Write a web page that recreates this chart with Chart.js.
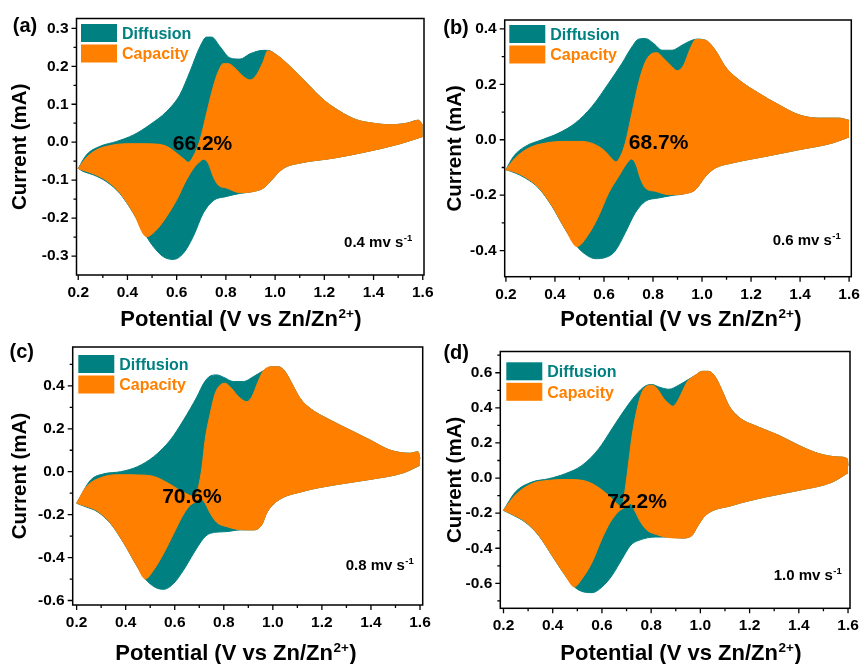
<!DOCTYPE html>
<html>
<head>
<meta charset="utf-8">
<script src="https://cdn.jsdelivr.net/npm/chart.js@4.4.0/dist/chart.umd.min.js"></script>
<style>
html,body{margin:0;padding:0;background:#fff;}
#wrap{position:relative;width:864px;height:664px;overflow:hidden;background:#fff;}
canvas{position:absolute;}
</style>
</head>
<body>
<div id="wrap">
<canvas id="ca" width="444" height="332" style="left:0;top:0"></canvas>
<canvas id="cb" width="432" height="332" style="left:432px;top:0"></canvas>
<canvas id="cc" width="444" height="332" style="left:0;top:332px"></canvas>
<canvas id="cd" width="432" height="332" style="left:432px;top:332px"></canvas>
</div>
<script>
// ---------- DATA (x = potential V vs Zn/Zn2+, y = current mA) ----------
// (a) 0.4 mV/s
const aDiffUpper = [[0.2,-0.069],[0.234,-0.033],[0.288,-0.011],[0.356,0.002],[0.424,0.019],[0.491,0.046],[0.559,0.081],[0.613,0.125],[0.654,0.186],[0.695,0.252],[0.722,0.277],[0.742,0.277],[0.776,0.252],[0.817,0.222],[0.857,0.219],[0.898,0.233],[0.952,0.242],[0.97,0.242],[1.006,0.23],[1.06,0.2],[1.128,0.156],[1.196,0.112],[1.264,0.081],[1.331,0.059],[1.399,0.05],[1.467,0.046],[1.535,0.05],[1.582,0.058],[1.6,0.045]];
const aDiffLower = [[0.2,-0.069],[0.22,-0.077],[0.261,-0.086],[0.315,-0.104],[0.369,-0.135],[0.424,-0.187],[0.478,-0.249],[0.505,-0.275],[0.546,-0.302],[0.586,-0.309],[0.627,-0.293],[0.667,-0.249],[0.708,-0.187],[0.749,-0.154],[0.803,-0.143],[0.857,-0.135],[0.911,-0.13],[0.952,-0.121],[0.979,-0.104],[1.033,-0.069],[1.101,-0.055],[1.237,-0.042],[1.372,-0.025],[1.508,-0.004],[1.6,0.015]];
const aCapUpper = [[0.2,-0.069],[0.234,-0.04],[0.275,-0.02],[0.329,-0.009],[0.396,-0.004],[0.451,-0.004],[0.518,-0.005],[0.559,-0.011],[0.6,-0.029],[0.634,-0.047],[0.647,-0.053],[0.667,-0.038],[0.695,0.006],[0.722,0.077],[0.749,0.147],[0.769,0.186],[0.789,0.207],[0.81,0.207],[0.837,0.195],[0.871,0.173],[0.898,0.164],[0.925,0.178],[0.952,0.213],[0.97,0.241],[1.006,0.23],[1.06,0.2],[1.128,0.156],[1.196,0.112],[1.264,0.081],[1.331,0.059],[1.399,0.05],[1.467,0.046],[1.535,0.05],[1.582,0.058],[1.6,0.045]];
const aCapLower = [[0.2,-0.069],[0.22,-0.074],[0.261,-0.083],[0.315,-0.101],[0.369,-0.133],[0.424,-0.186],[0.478,-0.249],[0.518,-0.231],[0.559,-0.196],[0.6,-0.152],[0.64,-0.099],[0.674,-0.064],[0.695,-0.051],[0.708,-0.045],[0.728,-0.055],[0.749,-0.091],[0.769,-0.113],[0.803,-0.121],[0.857,-0.133],[0.911,-0.13],[0.952,-0.121],[0.979,-0.104],[1.033,-0.069],[1.101,-0.055],[1.237,-0.042],[1.372,-0.025],[1.508,-0.004],[1.6,0.015]];

// (b) 0.6 mV/s
const bDiffUpper = [[0.2,-0.108],[0.231,-0.06],[0.279,-0.024],[0.347,0.0],[0.415,0.024],[0.483,0.06],[0.551,0.12],[0.619,0.204],[0.673,0.275],[0.714,0.335],[0.741,0.363],[0.769,0.365],[0.803,0.347],[0.837,0.323],[0.878,0.323],[0.918,0.341],[0.959,0.359],[0.98,0.363],[1.014,0.359],[1.054,0.323],[1.095,0.263],[1.15,0.216],[1.231,0.168],[1.313,0.126],[1.395,0.09],[1.476,0.078],[1.558,0.078],[1.6,0.07]];
const bDiffLower = [[0.2,-0.108],[0.238,-0.12],[0.279,-0.138],[0.333,-0.174],[0.388,-0.24],[0.442,-0.323],[0.49,-0.385],[0.524,-0.413],[0.565,-0.429],[0.605,-0.425],[0.646,-0.401],[0.687,-0.335],[0.728,-0.263],[0.769,-0.222],[0.823,-0.21],[0.878,-0.201],[0.932,-0.194],[0.973,-0.18],[1.014,-0.132],[1.054,-0.102],[1.122,-0.084],[1.259,-0.06],[1.395,-0.036],[1.531,-0.012],[1.6,0.01]];
const bCapUpper = [[0.2,-0.108],[0.238,-0.066],[0.293,-0.03],[0.361,-0.012],[0.442,-0.006],[0.51,-0.006],[0.565,-0.018],[0.605,-0.042],[0.633,-0.069],[0.649,-0.08],[0.667,-0.06],[0.687,-0.012],[0.714,0.096],[0.741,0.204],[0.769,0.281],[0.796,0.311],[0.816,0.314],[0.844,0.293],[0.878,0.263],[0.898,0.249],[0.925,0.269],[0.952,0.329],[0.975,0.362],[1.014,0.359],[1.054,0.323],[1.095,0.263],[1.15,0.216],[1.231,0.168],[1.313,0.126],[1.395,0.09],[1.476,0.078],[1.558,0.078],[1.6,0.07]];
const bCapLower = [[0.2,-0.108],[0.238,-0.117],[0.279,-0.135],[0.333,-0.172],[0.388,-0.238],[0.442,-0.322],[0.49,-0.385],[0.537,-0.341],[0.578,-0.275],[0.619,-0.192],[0.66,-0.132],[0.694,-0.084],[0.712,-0.069],[0.731,-0.09],[0.748,-0.138],[0.769,-0.174],[0.81,-0.186],[0.864,-0.198],[0.932,-0.194],[0.973,-0.18],[1.014,-0.132],[1.054,-0.102],[1.122,-0.084],[1.259,-0.06],[1.395,-0.036],[1.531,-0.012],[1.6,0.01]];

// (c) 0.8 mV/s
const cDiffUpper = [[0.2,-0.147],[0.257,-0.039],[0.311,-0.01],[0.379,0.0],[0.447,0.023],[0.514,0.07],[0.582,0.148],[0.636,0.241],[0.691,0.35],[0.718,0.412],[0.745,0.446],[0.772,0.451],[0.799,0.44],[0.84,0.42],[0.88,0.42],[0.921,0.443],[0.962,0.471],[0.996,0.489],[1.023,0.489],[1.05,0.466],[1.077,0.412],[1.111,0.342],[1.152,0.295],[1.233,0.241],[1.315,0.194],[1.396,0.148],[1.477,0.101],[1.559,0.086],[1.592,0.093],[1.6,0.06]];
const cDiffLower = [[0.2,-0.147],[0.236,-0.163],[0.284,-0.186],[0.338,-0.241],[0.393,-0.334],[0.447,-0.442],[0.48,-0.5],[0.521,-0.539],[0.555,-0.548],[0.596,-0.52],[0.636,-0.458],[0.677,-0.38],[0.718,-0.31],[0.745,-0.287],[0.813,-0.279],[0.867,-0.271],[0.921,-0.271],[0.955,-0.247],[0.975,-0.192],[1.016,-0.138],[1.125,-0.091],[1.26,-0.06],[1.396,-0.036],[1.532,-0.005],[1.6,0.03]];
const cCapUpper = [[0.2,-0.147],[0.24,-0.07],[0.311,-0.023],[0.379,-0.014],[0.447,-0.015],[0.514,-0.022],[0.568,-0.05],[0.623,-0.088],[0.66,-0.11],[0.682,-0.118],[0.697,-0.07],[0.711,0.02],[0.724,0.148],[0.745,0.272],[0.765,0.365],[0.786,0.404],[0.806,0.412],[0.83,0.39],[0.86,0.35],[0.894,0.326],[0.915,0.35],[0.94,0.42],[0.962,0.471],[0.996,0.489],[1.023,0.489],[1.05,0.466],[1.077,0.412],[1.111,0.342],[1.152,0.295],[1.233,0.241],[1.315,0.194],[1.396,0.148],[1.477,0.101],[1.559,0.086],[1.592,0.093],[1.6,0.06]];
const cCapLower = [[0.2,-0.147],[0.236,-0.16],[0.284,-0.183],[0.338,-0.239],[0.393,-0.333],[0.447,-0.441],[0.48,-0.5],[0.514,-0.458],[0.555,-0.38],[0.596,-0.287],[0.63,-0.21],[0.657,-0.163],[0.684,-0.14],[0.704,-0.124],[0.724,-0.147],[0.745,-0.194],[0.772,-0.237],[0.813,-0.256],[0.86,-0.269],[0.921,-0.271],[0.955,-0.247],[0.975,-0.192],[1.016,-0.138],[1.125,-0.091],[1.26,-0.06],[1.396,-0.036],[1.532,-0.005],[1.6,0.03]];

// (d) 1.0 mV/s
const dDiffUpper = [[0.2,-0.184],[0.248,-0.08],[0.315,-0.023],[0.383,-0.004],[0.451,0.025],[0.519,0.072],[0.587,0.167],[0.641,0.281],[0.695,0.395],[0.736,0.471],[0.777,0.525],[0.804,0.533],[0.831,0.519],[0.872,0.506],[0.912,0.529],[0.946,0.557],[0.98,0.586],[1.007,0.608],[1.034,0.608],[1.061,0.575],[1.088,0.499],[1.115,0.414],[1.156,0.347],[1.237,0.29],[1.319,0.243],[1.4,0.186],[1.482,0.139],[1.563,0.12],[1.597,0.11],[1.6,0.07]];
const dDiffLower = [[0.2,-0.184],[0.241,-0.213],[0.288,-0.251],[0.343,-0.327],[0.397,-0.441],[0.451,-0.555],[0.488,-0.62],[0.526,-0.649],[0.56,-0.653],[0.6,-0.621],[0.641,-0.555],[0.682,-0.46],[0.716,-0.384],[0.75,-0.355],[0.818,-0.336],[0.872,-0.336],[0.925,-0.342],[0.966,-0.327],[0.986,-0.28],[1.02,-0.213],[1.129,-0.156],[1.264,-0.108],[1.4,-0.07],[1.536,-0.023],[1.6,0.03]];
const dCapUpper = [[0.2,-0.184],[0.248,-0.097],[0.315,-0.032],[0.383,-0.013],[0.451,-0.008],[0.519,-0.013],[0.573,-0.042],[0.627,-0.099],[0.661,-0.146],[0.68,-0.165],[0.695,-0.06],[0.709,0.093],[0.723,0.245],[0.743,0.395],[0.763,0.49],[0.784,0.525],[0.804,0.529],[0.824,0.51],[0.851,0.453],[0.872,0.424],[0.888,0.409],[0.905,0.433],[0.926,0.491],[0.946,0.548],[0.96,0.567],[0.98,0.586],[1.007,0.608],[1.034,0.608],[1.061,0.575],[1.088,0.499],[1.115,0.414],[1.156,0.347],[1.237,0.29],[1.319,0.243],[1.4,0.186],[1.482,0.139],[1.563,0.12],[1.597,0.11],[1.6,0.07]];
const dCapLower = [[0.2,-0.184],[0.241,-0.21],[0.288,-0.248],[0.343,-0.325],[0.397,-0.44],[0.451,-0.554],[0.488,-0.62],[0.519,-0.574],[0.56,-0.479],[0.6,-0.346],[0.634,-0.251],[0.668,-0.19],[0.702,-0.16],[0.716,-0.146],[0.736,-0.194],[0.757,-0.251],[0.784,-0.298],[0.824,-0.323],[0.858,-0.336],[0.925,-0.342],[0.966,-0.327],[0.986,-0.28],[1.02,-0.213],[1.129,-0.156],[1.264,-0.108],[1.4,-0.07],[1.536,-0.023],[1.6,0.03]];

// ---------- TEXT ----------
const panelLabels = ['(a)', '(b)', '(c)', '(d)'];
const percentLabels = ['66.2%', '68.7%', '70.6%', '72.2%'];
const scanRates = ['0.4', '0.6', '0.8', '1.0'];
const seriesNames = ['Diffusion', 'Capacity'];
const yAxisTitle = 'Current (mA)';
const xAxisTitleMain = 'Potential (V vs Zn/Zn';
const xAxisTitleSup = '2+';
const xAxisTitleEnd = ')';

// ---------- STYLE / LAYOUT ----------
const TEAL = '#008080';
const ORANGE = '#FF8000';
const FONT = '"Liberation Sans", Arial, Helvetica, sans-serif';
const TICK_SIZE = 15.5;
const XTITLE_SIZE = 22;
const YTITLE_SIZE = 20.5;

const panels = [
  { id:'ca', diffU:aDiffUpper, diffL:aDiffLower, capU:aCapUpper, capL:aCapLower,
    xMin:0.193, xMax:1.605, yMin:-0.35, yMax:0.326, yStep:0.05, yMajor:0.1,
    padTop:18.5, padRight:20, yW:76.5, xH:57, yTitleX:20, xTitleX:241, xTitleY:318,
    labelX:25, labelY:25.8, pctX:0.705, pctY:0.0, rateDx:-12.3, rateDy:-33.3, legDx:4.5, legDy:5.5 },
  { id:'cb', diffU:bDiffUpper, diffL:bDiffLower, capU:bCapUpper, capL:bCapLower,
    xMin:0.195, xMax:1.609, yMin:-0.494, yMax:0.432, yStep:0.1, yMajor:0.2,
    padTop:20, padRight:12.7, yW:72.7, xH:55.3, yTitleX:23.3, xTitleX:249, xTitleY:318.3,
    labelX:24, labelY:27.5, pctX:0.823, pctY:-0.006, rateDx:-11, rateDy:-36.7, legDx:4.6, legDy:5 },
  { id:'cc', diffU:cDiffUpper, diffL:cDiffLower, capU:cCapUpper, capL:cCapLower,
    xMin:0.184, xMax:1.611, yMin:-0.621, yMax:0.581, yStep:0.1, yMajor:0.2,
    padTop:15, padRight:21.3, yW:72.7, xH:59, yTitleX:20, xTitleX:236, xTitleY:319.7,
    labelX:21.7, labelY:20.3, pctX:0.67, pctY:-0.109, rateDx:-9.4, rateDy:-40, legDx:5.6, legDy:8 },
  { id:'cd', diffU:dDiffUpper, diffL:dDiffLower, capU:dCapUpper, capL:dCapLower,
    xMin:0.187, xMax:1.608, yMin:-0.742, yMax:0.721, yStep:0.1, yMajor:0.2,
    padTop:19.5, padRight:14, yW:68.3, xH:55.7, yTitleX:23.3, xTitleX:249, xTitleY:319.7,
    labelX:24.2, labelY:21.3, pctX:0.743, pctY:-0.125, rateDx:-8.7, rateDy:-33.3, legDx:6, legDy:10.8 }
];

function fmtTick(v, major) {
  const r = v / major;
  if (Math.abs(r - Math.round(r)) > 1e-6) return '';
  if (Math.abs(v) < 1e-9) return '0.0';
  return v.toFixed(1);
}

function makeDataset(label, points, color, fill) {
  return {
    label: label,
    data: points.map(function (p) { return { x: p[0], y: p[1] }; }),
    borderColor: color,
    backgroundColor: color,
    borderWidth: 1,
    pointRadius: 0,
    pointHoverRadius: 0,
    fill: fill,
    cubicInterpolationMode: 'monotone'
  };
}

function makeAnnotations(p, idx) {
  return {
    id: 'annot' + idx,
    afterDraw: function (chart) {
      const ctx = chart.ctx, ca = chart.chartArea;
      const xs = chart.scales.x, ys = chart.scales.y;
      ctx.save();
      // frame
      ctx.strokeStyle = '#000';
      ctx.lineWidth = 1.5;
      ctx.strokeRect(ca.left, ca.top, ca.right - ca.left, ca.bottom - ca.top);
      // tick marks (outside): long for labelled, short for minor
      ctx.lineWidth = 1.3;
      ctx.beginPath();
      xs.ticks.forEach(function (t) {
        const px = xs.getPixelForValue(t.value);
        const len = t.label ? 5 : 3;
        ctx.moveTo(px, ca.bottom); ctx.lineTo(px, ca.bottom + len);
      });
      ys.ticks.forEach(function (t) {
        const py = ys.getPixelForValue(t.value);
        const len = t.label ? 5 : 3;
        ctx.moveTo(ca.left - len, py); ctx.lineTo(ca.left, py);
      });
      ctx.stroke();

      // legend
      const bx = ca.left + p.legDx, by = ca.top + p.legDy;
      const bw = 36, bh = 18, step = 20.5, ls = 16;
      ctx.fillStyle = TEAL; ctx.fillRect(bx, by, bw, bh);
      ctx.fillStyle = ORANGE; ctx.fillRect(bx, by + step, bw, bh);
      ctx.font = 'bold ' + ls + 'px ' + FONT;
      ctx.textAlign = 'left'; ctx.textBaseline = 'alphabetic';
      ctx.fillStyle = TEAL; ctx.fillText(seriesNames[0], bx + 41, by + bh / 2 + 0.358 * ls);
      ctx.fillStyle = ORANGE; ctx.fillText(seriesNames[1], bx + 41, by + step + bh / 2 + 0.358 * ls);

      // percentage
      ctx.fillStyle = '#000';
      ctx.font = 'bold 21px ' + FONT;
      ctx.textAlign = 'center';
      ctx.fillText(percentLabels[idx], xs.getPixelForValue(p.pctX), ys.getPixelForValue(p.pctY) + 0.358 * 21);

      // scan rate with superscript
      const mainTxt = scanRates[idx] + ' mv s';
      const supTxt = '-1';
      const rs = 15, ss = 9.5;
      ctx.textAlign = 'left';
      ctx.font = 'bold ' + rs + 'px ' + FONT;
      const wMain = ctx.measureText(mainTxt).width;
      ctx.font = 'bold ' + ss + 'px ' + FONT;
      const wSup = ctx.measureText(supTxt).width;
      const xEnd = ca.right + p.rateDx;
      const base = ca.bottom + p.rateDy + 0.358 * rs;
      ctx.font = 'bold ' + rs + 'px ' + FONT;
      ctx.fillText(mainTxt, xEnd - wSup - wMain, base);
      ctx.font = 'bold ' + ss + 'px ' + FONT;
      ctx.fillText(supTxt, xEnd - wSup + 0.5, base - 6.5);

      // x-axis title with superscript
      const sup = 13.5;
      ctx.font = 'bold ' + XTITLE_SIZE + 'px ' + FONT;
      const w1 = ctx.measureText(xAxisTitleMain).width;
      const w3 = ctx.measureText(xAxisTitleEnd).width;
      ctx.font = 'bold ' + sup + 'px ' + FONT;
      const w2 = ctx.measureText(xAxisTitleSup).width;
      const tx = p.xTitleX - (w1 + w2 + w3 + 1) / 2;
      const tb = p.xTitleY + 0.358 * XTITLE_SIZE;
      ctx.font = 'bold ' + XTITLE_SIZE + 'px ' + FONT;
      ctx.fillText(xAxisTitleMain, tx, tb);
      ctx.font = 'bold ' + sup + 'px ' + FONT;
      ctx.fillText(xAxisTitleSup, tx + w1 + 0.5, tb - 8);
      ctx.font = 'bold ' + XTITLE_SIZE + 'px ' + FONT;
      ctx.fillText(xAxisTitleEnd, tx + w1 + w2 + 1, tb);

      // panel label
      ctx.font = 'bold 20px ' + FONT;
      ctx.textAlign = 'center';
      ctx.fillText(panelLabels[idx], p.labelX, p.labelY + 0.3 * 20);
      ctx.restore();
    }
  };
}

panels.forEach(function (p, idx) {
  const cv = document.getElementById(p.id);
  new Chart(cv, {
    type: 'line',
    data: {
      datasets: [
        makeDataset(seriesNames[1], p.capU, ORANGE, '+1'),
        makeDataset(seriesNames[1], p.capL, ORANGE, false),
        makeDataset(seriesNames[0], p.diffU, TEAL, '+1'),
        makeDataset(seriesNames[0], p.diffL, TEAL, false)
      ]
    },
    options: {
      responsive: false,
      animation: false,
      devicePixelRatio: 1,
      events: [],
      layout: { padding: { left: 0, top: p.padTop, right: p.padRight, bottom: 0 } },
      plugins: { legend: { display: false }, tooltip: { enabled: false }, title: { display: false } },
      scales: {
        x: {
          type: 'linear', position: 'bottom', min: p.xMin, max: p.xMax,
          grid: { display: false, drawTicks: false },
          border: { display: false },
          ticks: {
            stepSize: 0.1, autoSkip: false, includeBounds: false, maxRotation: 0, minRotation: 0,
            padding: 8.5, color: '#000',
            font: { family: FONT, size: TICK_SIZE, weight: 'bold' },
            callback: function (v) { return fmtTick(v, 0.2); }
          },
          afterFit: function (s) { s.height = p.xH; s.paddingLeft = 0; s.paddingRight = 0; }
        },
        y: {
          type: 'linear', position: 'left', min: p.yMin, max: p.yMax,
          grid: { display: false, drawTicks: false },
          border: { display: false },
          title: {
            display: true, text: yAxisTitle, color: '#000',
            font: { family: FONT, size: YTITLE_SIZE, weight: 'bold' },
            padding: { top: p.yTitleX - YTITLE_SIZE * 0.6, bottom: 0 }
          },
          ticks: {
            stepSize: p.yStep, autoSkip: false, includeBounds: false,
            padding: 8, color: '#000',
            font: { family: FONT, size: TICK_SIZE, weight: 'bold' },
            callback: function (v) { return fmtTick(v, p.yMajor); }
          },
          afterFit: function (s) { s.width = p.yW; s.paddingTop = 0; s.paddingBottom = 0; }
        }
      }
    },
    plugins: [makeAnnotations(p, idx)]
  });
});
</script>
</body>
</html>
